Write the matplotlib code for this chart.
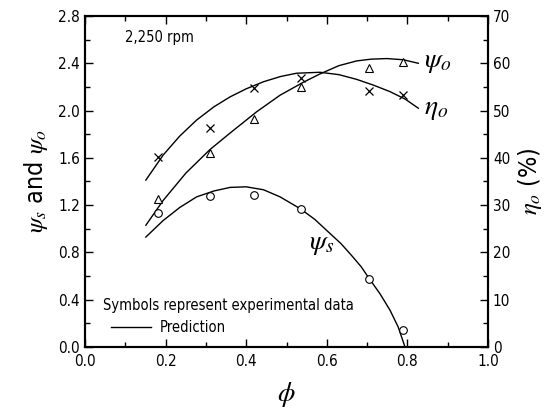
import matplotlib
matplotlib.use("Agg")
import matplotlib.pyplot as plt
from matplotlib.ticker import MultipleLocator, FormatStrFormatter

plt.rcParams['font.family'] = ['DejaVu Sans']
plt.rcParams['font.stretch'] = 'condensed'
plt.rcParams['mathtext.fontset'] = 'stix'

# experimental points
phi_exp = [0.18, 0.31, 0.42, 0.535, 0.705, 0.79]
psi_o_exp = [1.25, 1.64, 1.93, 2.20, 2.36, 2.41]
psi_s_exp = [1.13, 1.28, 1.29, 1.17, 0.575, 0.14]
eta_exp = [40.2, 46.3, 54.8, 56.9, 54.2, 53.3]

# prediction curves
phi_psi_o = [0.151, 0.194, 0.25, 0.31, 0.36, 0.426, 0.484, 0.542, 0.583, 0.63, 0.674, 0.71, 0.749, 0.79, 0.827]
psi_o_pred = [1.03, 1.24, 1.47, 1.67, 1.81, 1.99, 2.13, 2.24, 2.31, 2.38, 2.42, 2.435, 2.44, 2.43, 2.40]

phi_eta = [0.151, 0.194, 0.235, 0.277, 0.32, 0.36, 0.40, 0.443, 0.485, 0.525, 0.583, 0.63, 0.674, 0.715, 0.757, 0.795, 0.827]
eta_pred = [35.3, 40.6, 44.6, 48.0, 50.8, 52.9, 54.6, 56.1, 57.2, 57.9, 58.1, 57.6, 56.6, 55.4, 54.0, 52.4, 50.5]

phi_psi_s = [0.151, 0.194, 0.235, 0.277, 0.32, 0.36, 0.40, 0.443, 0.484, 0.534, 0.57, 0.608, 0.635, 0.66, 0.685, 0.707, 0.732, 0.757, 0.777, 0.794]
psi_s_pred = [0.93, 1.07, 1.18, 1.27, 1.32, 1.35, 1.355, 1.33, 1.27, 1.17, 1.08, 0.96, 0.875, 0.78, 0.68, 0.57, 0.45, 0.31, 0.17, 0.0]

fig = plt.figure(figsize=(5.53, 4.17), dpi=100)
ax = fig.add_axes([0.1537, 0.1679, 0.7288, 0.7937])
ax2 = ax.twinx()

ax.plot(phi_psi_o, psi_o_pred, color="black", lw=1.0)
ax.plot(phi_psi_s, psi_s_pred, color="black", lw=1.0)
ax2.plot(phi_eta, eta_pred, color="black", lw=1.0)

ax.plot(phi_exp, psi_o_exp, ls="none", marker="^", ms=5.5, mfc="white", mec="black", mew=0.8)
ax.plot(phi_exp, psi_s_exp, ls="none", marker="o", ms=5.5, mfc="white", mec="black", mew=0.8)
ax2.plot(phi_exp, eta_exp, ls="none", marker="x", ms=6, mec="black", mew=0.9)

ax.set_xlim(0, 1.0)
ax.set_ylim(0, 2.8)
ax2.set_ylim(0, 70)

ax.xaxis.set_major_locator(MultipleLocator(0.2))
ax.xaxis.set_minor_locator(MultipleLocator(0.1))
ax.yaxis.set_major_locator(MultipleLocator(0.4))
ax.yaxis.set_minor_locator(MultipleLocator(0.2))
ax2.yaxis.set_major_locator(MultipleLocator(10))
ax2.yaxis.set_minor_locator(MultipleLocator(5))

ax.xaxis.set_major_formatter(FormatStrFormatter("%.1f"))
ax.yaxis.set_major_formatter(FormatStrFormatter("%.1f"))

ax.tick_params(axis="x", which="both", direction="in", top=True, labelsize=11, pad=5)
ax.tick_params(axis="y", which="both", direction="in", labelsize=11)
ax2.tick_params(axis="y", which="both", direction="in", labelsize=11)
for a in (ax, ax2):
    a.tick_params(which="major", length=6, width=1.0)
    a.tick_params(which="minor", length=3.5, width=1.0)
    for sp in a.spines.values():
        sp.set_linewidth(1.5)

ax.set_xlabel(r"$\phi$", fontsize=20, labelpad=8)
ax.set_ylabel(r"$\psi_s$ and $\psi_o$", fontsize=18, labelpad=6)
ax2.set_ylabel(r"$\eta_o$ (%)", fontsize=18, labelpad=4)

ax.text(0.1, 2.62, "2,250 rpm", fontsize=10.5, va="center")
ax.text(0.84, 2.42, r"$\psi_o$", fontsize=20, va="center")
ax.text(0.84, 2.02, r"$\eta_o$", fontsize=20, va="center")
ax.text(0.555, 0.88, r"$\psi_s$", fontsize=20, va="center")

ax.text(0.045, 0.355, "Symbols represent experimental data", fontsize=10.5, va="center")
ax.plot([0.065, 0.165], [0.165, 0.165], color="black", lw=1.0)
ax.text(0.185, 0.165, "Prediction", fontsize=10.5, va="center")

fig.savefig("out.png", dpi=100)
